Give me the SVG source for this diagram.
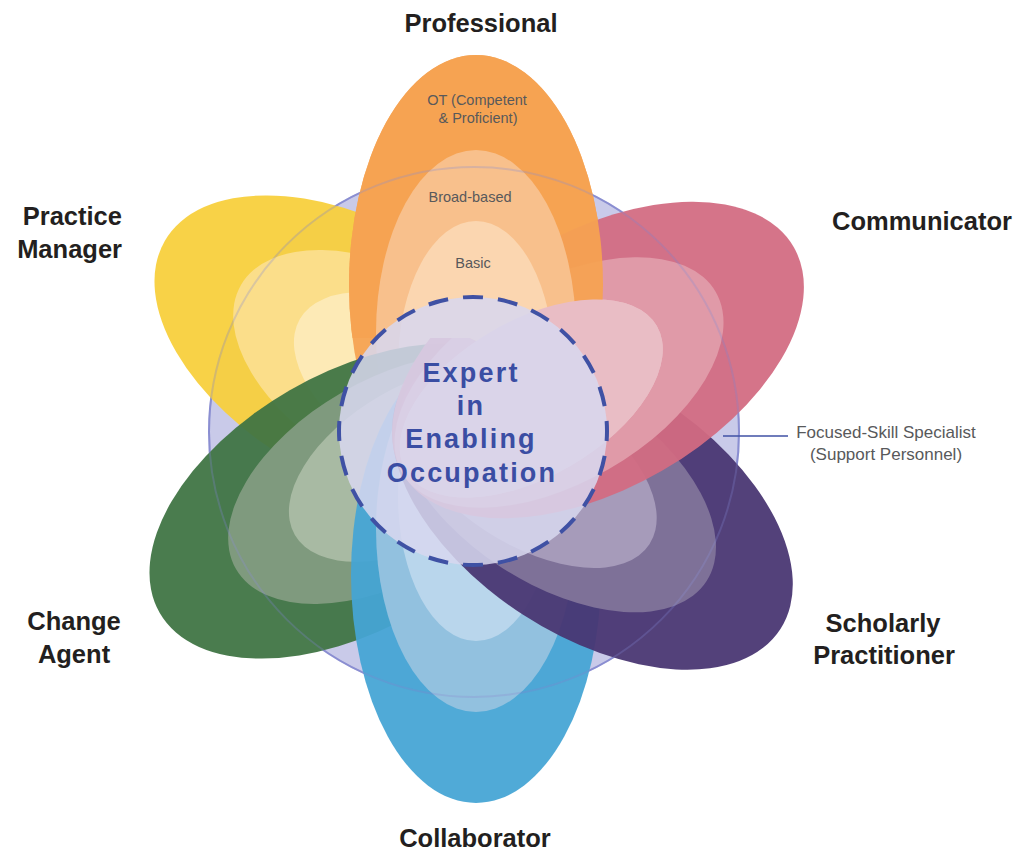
<svg xmlns="http://www.w3.org/2000/svg" xmlns:xlink="http://www.w3.org/1999/xlink" width="1018" height="854" viewBox="0 0 1018 854">
<style>
.lbl{font-family:"Liberation Sans",Arial,sans-serif;font-weight:bold;font-size:25.5px;fill:#231F20}
.sm{font-family:"Liberation Sans",Arial,sans-serif;font-size:14.5px;fill:#58595B;text-anchor:middle}
.note{font-family:"Liberation Sans",Arial,sans-serif;font-size:17px;fill:#58595B;text-anchor:middle}
.ctr{font-family:"Liberation Sans",Arial,sans-serif;font-weight:bold;font-size:27px;letter-spacing:2.2px;fill:#3A4DA3;text-anchor:middle}
.outer{fill-opacity:0.94}
</style>
<defs>
<clipPath id="topClip"><polygon points="0,0 1018,0 1018,372 540,372 470,338 0,338"/></clipPath>
</defs>
<rect width="1018" height="854" fill="#FFFFFF"/>
<g id="support-circle">
<circle cx="474" cy="432" r="265" fill="#C9CAE9" stroke="#8A8ED2" stroke-width="2"/>
</g>
<g id="practice-manager">
<g transform="translate(480 423) rotate(-60)">
<ellipse class="outer" cx="0" cy="-140" rx="128" ry="224" fill="#F8CF3C"/>
<ellipse cx="0" cy="-96" rx="100" ry="180" fill="#FBDE8A"/>
<ellipse cx="0" cy="-64" rx="78" ry="144" fill="#FDEAB6"/>
</g>
<text class="lbl" text-anchor="end" x="122" y="225">Practice</text>
<text class="lbl" text-anchor="end" x="122" y="258">Manager</text>
</g>
<g id="professional">
<g id="professional-petal" transform="translate(476 431)">
<ellipse class="outer" cx="0" cy="-146" rx="127" ry="230" fill="#F5A352"/>
<ellipse cx="0" cy="-98" rx="100" ry="183" fill="#F8C08C"/>
<ellipse cx="0" cy="-65" rx="78" ry="145" fill="#FBD6B0"/>
</g>
<text class="lbl" text-anchor="middle" x="481" y="32">Professional</text>
</g>
<g id="change-agent">
<g transform="translate(475 431) rotate(240)">
<ellipse class="outer" cx="0" cy="-140" rx="128" ry="224" fill="#3F7443"/>
<ellipse cx="0" cy="-96" rx="100" ry="180" fill="#7F9A7E"/>
<ellipse cx="0" cy="-64" rx="78" ry="144" fill="#A8BAA3"/>
</g>
<text class="lbl" text-anchor="middle" x="74" y="630">Change</text>
<text class="lbl" text-anchor="middle" x="74" y="663">Agent</text>
</g>
<g id="collaborator">
<g transform="translate(476 431) rotate(180)">
<ellipse class="outer" cx="0" cy="-144" rx="125" ry="228" fill="#45A5D4"/>
<ellipse cx="0" cy="-98" rx="100" ry="183" fill="#92C1DF"/>
<ellipse cx="0" cy="-65" rx="78" ry="145" fill="#B9D6EC"/>
</g>
<text class="lbl" text-anchor="middle" x="475" y="847">Collaborator</text>
</g>
<g id="scholarly-practitioner">
<g transform="translate(475 431) rotate(123)">
<ellipse class="outer" cx="0" cy="-140" rx="128" ry="224" fill="#483572"/>
<ellipse cx="0" cy="-96" rx="100" ry="180" fill="#7E7198"/>
<ellipse cx="0" cy="-64" rx="78" ry="144" fill="#A69BBA"/>
</g>
<text class="lbl" text-anchor="middle" x="883" y="632">Scholarly</text>
<text class="lbl" text-anchor="middle" x="884" y="664">Practitioner</text>
</g>
<g id="communicator">
<g transform="translate(475 431) rotate(60)">
<ellipse class="outer" cx="0" cy="-142" rx="128" ry="226" fill="#D26B82"/>
<ellipse cx="0" cy="-97" rx="100" ry="181" fill="#E09AA8"/>
<ellipse id="communicator-inner" cx="0" cy="-65" rx="78" ry="145" fill="#E9BDC5"/>
</g>
<text class="lbl" text-anchor="middle" x="922" y="230">Communicator</text>
</g>
<use xlink:href="#professional-petal" href="#professional-petal" clip-path="url(#topClip)"/>
<g transform="translate(475 431) rotate(60)">
<use xlink:href="#communicator-inner" href="#communicator-inner"/>
</g>
<circle cx="474" cy="432" r="265" fill="none" stroke="#8A8ED2" stroke-width="2" stroke-opacity="0.3"/>
<g id="professional-levels">
<text class="sm" x="477" y="105">OT (Competent</text>
<text class="sm" x="478" y="123">&amp; Proficient)</text>
<text class="sm" x="470" y="202">Broad-based</text>
<text class="sm" x="473" y="268">Basic</text>
</g>
<g id="expert">
<circle cx="473" cy="431" r="134" fill="#D7D7EF" fill-opacity="0.86" stroke="#3F51A4" stroke-width="4" pathLength="840" stroke-dasharray="20 15" stroke-dashoffset="10" transform="rotate(-90 473 431)"/>
<text class="ctr" x="471" y="382">Expert</text>
<text class="ctr" x="471" y="415">in</text>
<text class="ctr" x="471" y="448">Enabling</text>
<text class="ctr" x="472" y="482">Occupation</text>
</g>
<g id="connectors">
<line x1="723" y1="436" x2="788" y2="436" stroke="#3F51A4" stroke-width="1.5"/>
</g>
<g id="focused-skill-specialist">
<text class="note" x="886" y="438">Focused-Skill Specialist</text>
<text class="note" x="886" y="460">(Support Personnel)</text>
</g>
</svg>
